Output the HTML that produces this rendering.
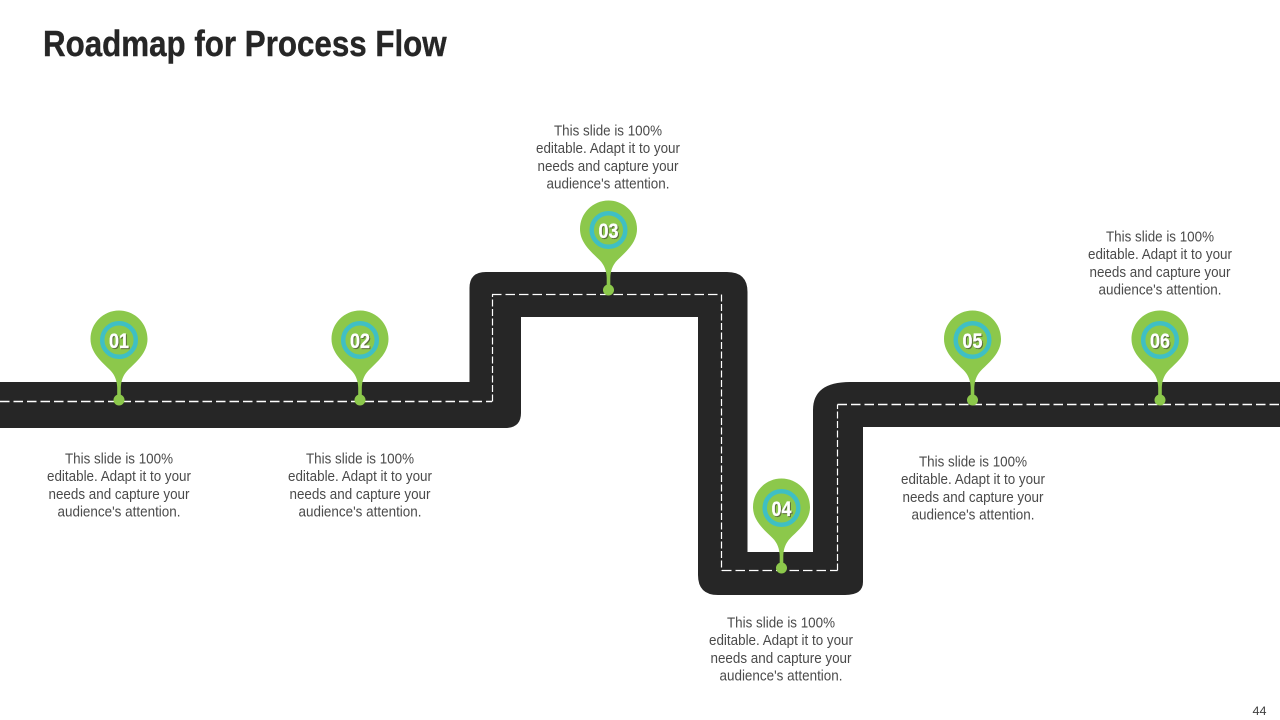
<!DOCTYPE html>
<html>
<head>
<meta charset="utf-8">
<style>
html,body{margin:0;padding:0;background:#fff;width:1280px;height:720px;overflow:hidden}
svg{display:block}
text{font-family:"Liberation Sans",sans-serif}
.t{font-size:15px;fill:#4a4a4a}
.n{font-size:21px;font-weight:bold;fill:#fff;stroke:#fff;stroke-width:.3px;filter:drop-shadow(1px 1px 0 #5a6b3a)}
</style>
</head>
<body>
<svg width="1280" height="720" viewBox="0 0 1280 720" xmlns="http://www.w3.org/2000/svg">
<text transform="translate(43,56) scale(.87,1)" font-size="36" font-weight="bold" fill="#262626" stroke="#262626" stroke-width=".4" textLength="464" lengthAdjust="spacing">Roadmap for Process Flow</text>

<path fill="#262626" d="M0 382H469.500V288Q469.500 272 486 272H727Q747.500 272 747.500 292V552H813V410Q813 382 850 382H1280V427H863V582Q863 595 845 595H718Q698 595 698 575V317H521V413Q521 428 505 428H0Z"/>
<path fill="none" stroke="#fff" stroke-width="1.500" stroke-dasharray="9.500 4" d="M0 401.500H492"/>
<path fill="none" stroke="#fff" stroke-width="1.300" stroke-dasharray="9.500 4" d="M492 294.500H721.500"/>
<path fill="none" stroke="#fff" stroke-width="1.300" stroke-dasharray="9.500 4" d="M722 570.500H837.500"/>
<path fill="none" stroke="#fff" stroke-width="1.500" stroke-dasharray="9.500 4" d="M837.500 404.500H1280"/>
<path fill="none" stroke="#fff" stroke-width="1.200" stroke-dasharray="7 2.500" d="M492.500 401.500V294.500M721.500 294.500V570.500M837.500 570.500V404.500"/>

<g transform="translate(119,0)">
<path fill="#8CC84B" d="M0 310.500C15.700 310.500 28.500 323.300 28.500 339C28.500 353 17 362 9 370C4 375 2 381 1.800 388V400H-1.800V388C-2 381 -4 375 -9 370C-17 362 -28.500 353 -28.500 339C-28.500 323.300 -15.700 310.500 0 310.500Z"/>
<circle cx="0" cy="400" r="5.500" fill="#8CC84B"/>
<circle cx="0" cy="340" r="16.800" fill="none" stroke="#3FBFC4" stroke-width="4.500"/>
<text class="n" x="0" y="348" text-anchor="middle" textLength="20" lengthAdjust="spacingAndGlyphs">01</text>
</g>
<g transform="translate(360,0)">
<path fill="#8CC84B" d="M0 310.500C15.700 310.500 28.500 323.300 28.500 339C28.500 353 17 362 9 370C4 375 2 381 1.800 388V400H-1.800V388C-2 381 -4 375 -9 370C-17 362 -28.500 353 -28.500 339C-28.500 323.300 -15.700 310.500 0 310.500Z"/>
<circle cx="0" cy="400" r="5.500" fill="#8CC84B"/>
<circle cx="0" cy="340" r="16.800" fill="none" stroke="#3FBFC4" stroke-width="4.500"/>
<text class="n" x="0" y="348" text-anchor="middle" textLength="20" lengthAdjust="spacingAndGlyphs">02</text>
</g>
<g transform="translate(608.500,-110)">
<path fill="#8CC84B" d="M0 310.500C15.700 310.500 28.500 323.300 28.500 339C28.500 353 17 362 9 370C4 375 2 381 1.800 388V400H-1.800V388C-2 381 -4 375 -9 370C-17 362 -28.500 353 -28.500 339C-28.500 323.300 -15.700 310.500 0 310.500Z"/>
<circle cx="0" cy="400" r="5.500" fill="#8CC84B"/>
<circle cx="0" cy="340" r="16.800" fill="none" stroke="#3FBFC4" stroke-width="4.500"/>
<text class="n" x="0" y="348" text-anchor="middle" textLength="20" lengthAdjust="spacingAndGlyphs">03</text>
</g>
<g transform="translate(781.500,168)">
<path fill="#8CC84B" d="M0 310.500C15.700 310.500 28.500 323.300 28.500 339C28.500 353 17 362 9 370C4 375 2 381 1.800 388V400H-1.800V388C-2 381 -4 375 -9 370C-17 362 -28.500 353 -28.500 339C-28.500 323.300 -15.700 310.500 0 310.500Z"/>
<circle cx="0" cy="400" r="5.500" fill="#8CC84B"/>
<circle cx="0" cy="340" r="16.800" fill="none" stroke="#3FBFC4" stroke-width="4.500"/>
<text class="n" x="0" y="348" text-anchor="middle" textLength="20" lengthAdjust="spacingAndGlyphs">04</text>
</g>
<g transform="translate(972.500,0)">
<path fill="#8CC84B" d="M0 310.500C15.700 310.500 28.500 323.300 28.500 339C28.500 353 17 362 9 370C4 375 2 381 1.800 388V400H-1.800V388C-2 381 -4 375 -9 370C-17 362 -28.500 353 -28.500 339C-28.500 323.300 -15.700 310.500 0 310.500Z"/>
<circle cx="0" cy="400" r="5.500" fill="#8CC84B"/>
<circle cx="0" cy="340" r="16.800" fill="none" stroke="#3FBFC4" stroke-width="4.500"/>
<text class="n" x="0" y="348" text-anchor="middle" textLength="20" lengthAdjust="spacingAndGlyphs">05</text>
</g>
<g transform="translate(1160,0)">
<path fill="#8CC84B" d="M0 310.500C15.700 310.500 28.500 323.300 28.500 339C28.500 353 17 362 9 370C4 375 2 381 1.800 388V400H-1.800V388C-2 381 -4 375 -9 370C-17 362 -28.500 353 -28.500 339C-28.500 323.300 -15.700 310.500 0 310.500Z"/>
<circle cx="0" cy="400" r="5.500" fill="#8CC84B"/>
<circle cx="0" cy="340" r="16.800" fill="none" stroke="#3FBFC4" stroke-width="4.500"/>
<text class="n" x="0" y="348" text-anchor="middle" textLength="20" lengthAdjust="spacingAndGlyphs">06</text>
</g>

<g transform="translate(119,463.500)">
<text class="t" y="0" text-anchor="middle" textLength="108" lengthAdjust="spacingAndGlyphs">This slide is 100%</text>
<text class="t" y="17.700" text-anchor="middle" textLength="144" lengthAdjust="spacingAndGlyphs">editable. Adapt it to your</text>
<text class="t" y="35.300" text-anchor="middle" textLength="141" lengthAdjust="spacingAndGlyphs">needs and capture your</text>
<text class="t" y="53" text-anchor="middle" textLength="123" lengthAdjust="spacingAndGlyphs">audience's attention.</text>
</g>
<g transform="translate(360,463.500)">
<text class="t" y="0" text-anchor="middle" textLength="108" lengthAdjust="spacingAndGlyphs">This slide is 100%</text>
<text class="t" y="17.700" text-anchor="middle" textLength="144" lengthAdjust="spacingAndGlyphs">editable. Adapt it to your</text>
<text class="t" y="35.300" text-anchor="middle" textLength="141" lengthAdjust="spacingAndGlyphs">needs and capture your</text>
<text class="t" y="53" text-anchor="middle" textLength="123" lengthAdjust="spacingAndGlyphs">audience's attention.</text>
</g>
<g transform="translate(608,135.500)">
<text class="t" y="0" text-anchor="middle" textLength="108" lengthAdjust="spacingAndGlyphs">This slide is 100%</text>
<text class="t" y="17.700" text-anchor="middle" textLength="144" lengthAdjust="spacingAndGlyphs">editable. Adapt it to your</text>
<text class="t" y="35.300" text-anchor="middle" textLength="141" lengthAdjust="spacingAndGlyphs">needs and capture your</text>
<text class="t" y="53" text-anchor="middle" textLength="123" lengthAdjust="spacingAndGlyphs">audience's attention.</text>
</g>
<g transform="translate(781,627.500)">
<text class="t" y="0" text-anchor="middle" textLength="108" lengthAdjust="spacingAndGlyphs">This slide is 100%</text>
<text class="t" y="17.700" text-anchor="middle" textLength="144" lengthAdjust="spacingAndGlyphs">editable. Adapt it to your</text>
<text class="t" y="35.300" text-anchor="middle" textLength="141" lengthAdjust="spacingAndGlyphs">needs and capture your</text>
<text class="t" y="53" text-anchor="middle" textLength="123" lengthAdjust="spacingAndGlyphs">audience's attention.</text>
</g>
<g transform="translate(973,466.500)">
<text class="t" y="0" text-anchor="middle" textLength="108" lengthAdjust="spacingAndGlyphs">This slide is 100%</text>
<text class="t" y="17.700" text-anchor="middle" textLength="144" lengthAdjust="spacingAndGlyphs">editable. Adapt it to your</text>
<text class="t" y="35.300" text-anchor="middle" textLength="141" lengthAdjust="spacingAndGlyphs">needs and capture your</text>
<text class="t" y="53" text-anchor="middle" textLength="123" lengthAdjust="spacingAndGlyphs">audience's attention.</text>
</g>
<g transform="translate(1160,241.500)">
<text class="t" y="0" text-anchor="middle" textLength="108" lengthAdjust="spacingAndGlyphs">This slide is 100%</text>
<text class="t" y="17.700" text-anchor="middle" textLength="144" lengthAdjust="spacingAndGlyphs">editable. Adapt it to your</text>
<text class="t" y="35.300" text-anchor="middle" textLength="141" lengthAdjust="spacingAndGlyphs">needs and capture your</text>
<text class="t" y="53" text-anchor="middle" textLength="123" lengthAdjust="spacingAndGlyphs">audience's attention.</text>
</g>

<text x="1259.500" y="715" font-size="12" fill="#404040" text-anchor="middle" textLength="14" lengthAdjust="spacingAndGlyphs">44</text>
</svg>
</body>
</html>
